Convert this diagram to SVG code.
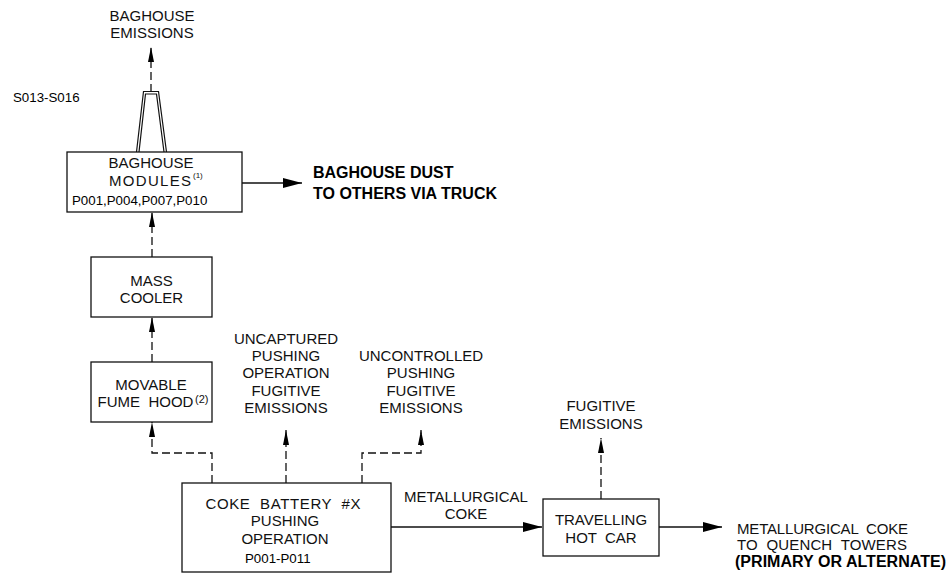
<svg xmlns="http://www.w3.org/2000/svg" width="948" height="574" viewBox="0 0 948 574">
<style>
.box{fill:#fff;stroke:#111;stroke-width:1.3}
.cad{font-family:"Liberation Sans",Arial,sans-serif;font-size:15px;fill:#111;text-anchor:middle}
.lbl{font-family:"Liberation Sans",Arial,sans-serif;font-size:13.3px;fill:#000}
.bold{font-family:"Liberation Sans",Arial,sans-serif;font-size:16px;font-weight:bold;fill:#000}
.sup{font-family:"Liberation Sans",Arial,sans-serif;fill:#111}
.dash{fill:none;stroke:#111;stroke-width:1.3;stroke-dasharray:8 4}
.solid{fill:none;stroke:#111;stroke-width:1.3}
.stack{fill:none;stroke:#111;stroke-width:1.2}
</style>
<defs>
<marker id="ad" markerUnits="userSpaceOnUse" markerWidth="16" markerHeight="8" refX="15" refY="3.5" orient="auto">
<path d="M0,0.5 L15,3.5 L0,6.5 Z" fill="#000"/>
</marker>
<marker id="as" markerUnits="userSpaceOnUse" markerWidth="20" markerHeight="11" refX="19" refY="5" orient="auto">
<path d="M0,0 L19,5 L0,10 Z" fill="#000"/>
</marker>
</defs>

<g id="connectors">
<path class="dash" d="M151 92 V47" marker-end="url(#ad)"/>
<path class="dash" d="M152 257 V212" marker-end="url(#ad)"/>
<path class="dash" d="M152 362 V317" marker-end="url(#ad)"/>
<path class="dash" d="M212 483 V453 H152 V422" marker-end="url(#ad)"/>
<path class="dash" d="M286 483 V430" marker-end="url(#ad)"/>
<path class="dash" d="M362 483 V453 H421 V430" marker-end="url(#ad)"/>
<path class="dash" d="M601 499 V438" marker-end="url(#ad)"/>
<path class="solid" d="M242 183 H302" marker-end="url(#as)"/>
<path class="solid" d="M391 527 H542" marker-end="url(#as)"/>
<path class="solid" d="M659 527 H722" marker-end="url(#as)"/>
</g>

<g id="baghouse-emissions">
<text class="cad" x="152" y="21">BAGHOUSE</text>
<text class="cad" x="152" y="38">EMISSIONS</text>
</g>

<g id="stack">
<text class="lbl" x="13" y="102">S013-S016</text>
<polyline class="stack" points="136.5,152 143.5,91.5 158.5,91.5 166.5,152"/>
<polyline class="stack" points="139,152 145.5,94 156.5,94 164,152"/>
</g>

<g id="baghouse-modules">
<rect class="box" x="67" y="152" width="175" height="60"/>
<text class="cad" x="151" y="168">BAGHOUSE</text>
<text class="cad" x="150" y="185.5" textLength="82">MODULES</text>
<text class="sup" x="193" y="178" font-size="8">(1)</text>
<text class="lbl" x="72" y="205">P001,P004,P007,P010</text>
</g>

<g id="baghouse-dust">
<text class="bold" x="313" y="178">BAGHOUSE DUST</text>
<text class="bold" x="313" y="199">TO OTHERS VIA TRUCK</text>
</g>

<g id="mass-cooler">
<rect class="box" x="91" y="257" width="121" height="60"/>
<text class="cad" x="151.5" y="285.5">MASS</text>
<text class="cad" x="151.5" y="302.5">COOLER</text>
</g>

<g id="movable-fume-hood">
<rect class="box" x="91" y="362" width="121" height="60"/>
<text class="cad" x="151" y="389.5">MOVABLE</text>
<text class="cad" x="145.5" y="406.5" xml:space="preserve">FUME  HOOD</text>
<text class="sup" x="195" y="403" font-size="11">(2)</text>
</g>

<g id="uncaptured-emissions">
<text class="cad" x="286" y="343.5">UNCAPTURED</text>
<text class="cad" x="286" y="360.5">PUSHING</text>
<text class="cad" x="286" y="378">OPERATION</text>
<text class="cad" x="286" y="395.5">FUGITIVE</text>
<text class="cad" x="286" y="412.5">EMISSIONS</text>
</g>

<g id="uncontrolled-emissions">
<text class="cad" x="421" y="360.5">UNCONTROLLED</text>
<text class="cad" x="421" y="378">PUSHING</text>
<text class="cad" x="421" y="395.5">FUGITIVE</text>
<text class="cad" x="421" y="412.5">EMISSIONS</text>
</g>

<g id="coke-battery">
<rect class="box" x="182" y="483" width="209" height="89"/>
<text class="cad" x="283" y="508.5" xml:space="preserve" textLength="155">COKE  BATTERY  #X</text>
<text class="cad" x="285" y="525.5">PUSHING</text>
<text class="cad" x="285" y="543.5">OPERATION</text>
<text class="lbl" x="245" y="563" font-size="13">P001-P011</text>
</g>

<g id="metallurgical-coke-label">
<text class="cad" x="466" y="501.5">METALLURGICAL</text>
<text class="cad" x="466" y="518.5">COKE</text>
</g>

<g id="fugitive-emissions">
<text class="cad" x="601" y="411">FUGITIVE</text>
<text class="cad" x="601" y="428.5">EMISSIONS</text>
</g>

<g id="travelling-hot-car">
<rect class="box" x="543" y="499" width="116" height="57"/>
<text class="cad" x="601" y="524.5">TRAVELLING</text>
<text class="cad" x="601" y="542.5" xml:space="preserve">HOT  CAR</text>
</g>

<g id="quench-towers">
<text class="cad" x="737" y="533.5" font-size="14.5" style="text-anchor:start" xml:space="preserve" textLength="171">METALLURGICAL  COKE</text>
<text class="cad" x="737" y="550" font-size="14.5" style="text-anchor:start" xml:space="preserve" textLength="170">TO  QUENCH  TOWERS</text>
<text class="bold" x="735" y="567" font-size="15" textLength="211">(PRIMARY OR ALTERNATE)</text>
</g>
</svg>
